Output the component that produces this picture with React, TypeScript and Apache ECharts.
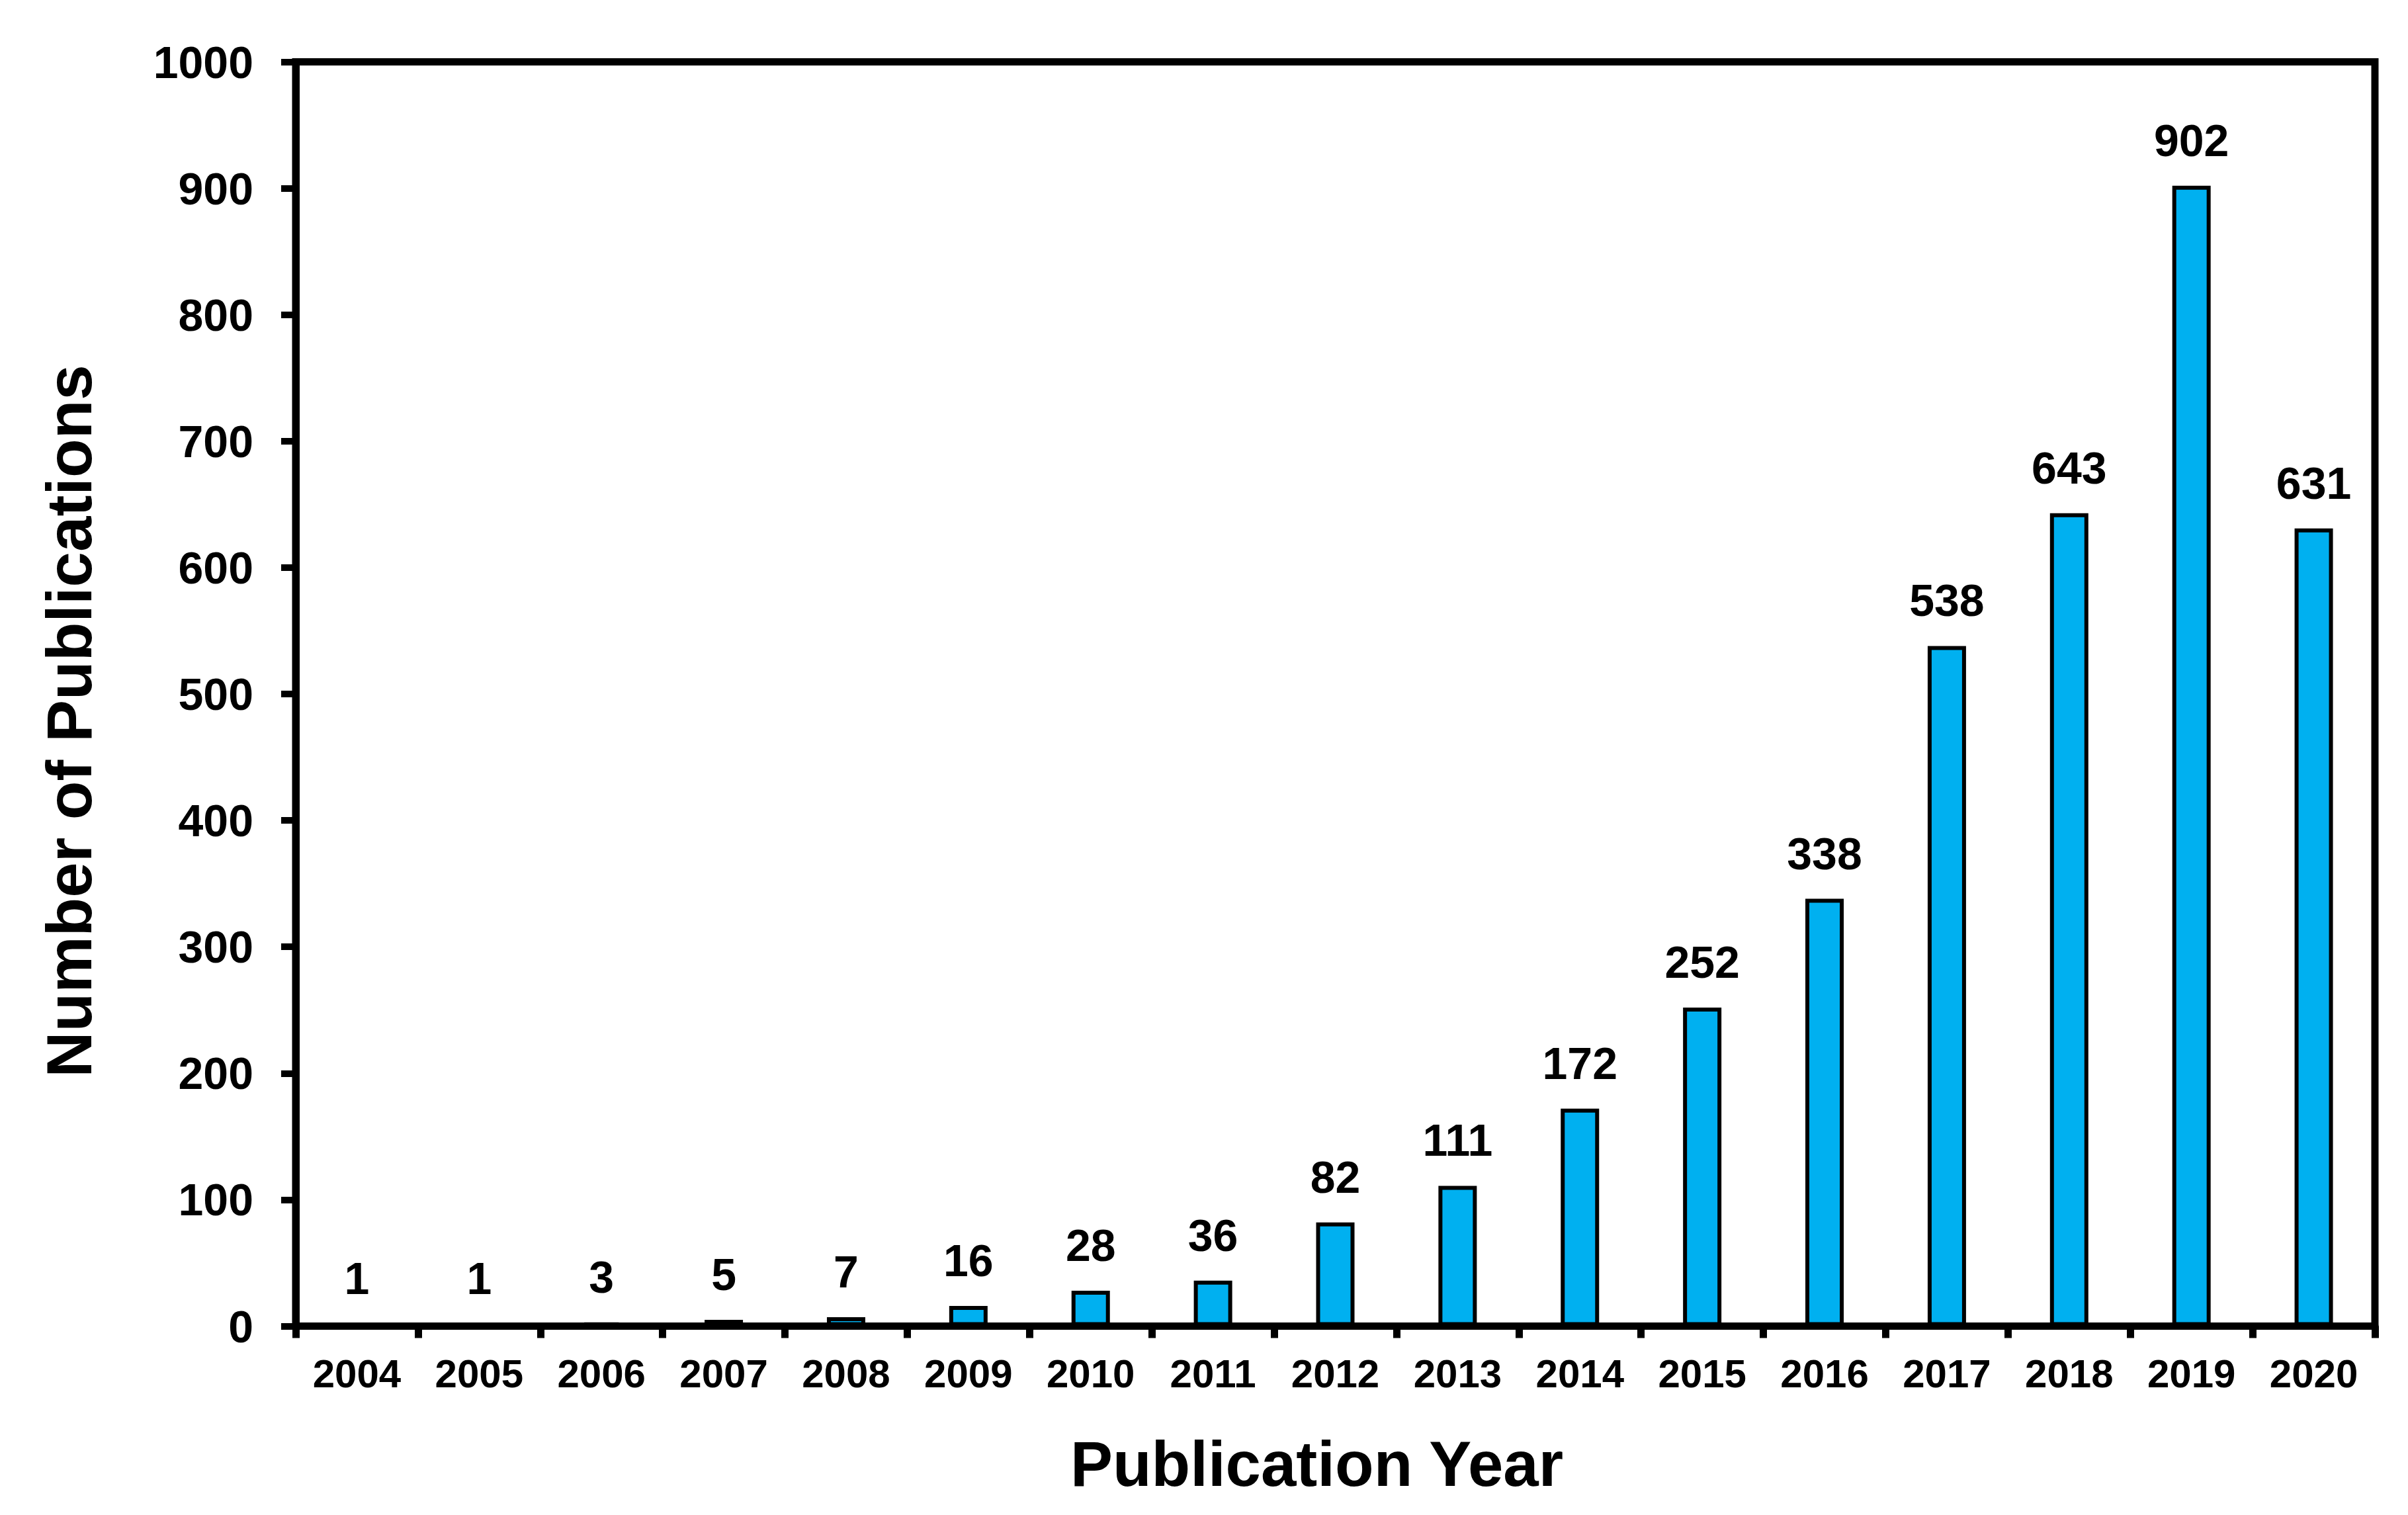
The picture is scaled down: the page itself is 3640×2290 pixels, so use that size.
import React, { useEffect, useRef } from "react";
import * as echarts from "echarts";

const years = ["2004","2005","2006","2007","2008","2009","2010","2011","2012","2013","2014","2015","2016","2017","2018","2019","2020"];
const publications = [1, 1, 3, 5, 7, 16, 28, 36, 82, 111, 172, 252, 338, 538, 643, 902, 631];

const FONT = "'Liberation Sans', Arial, sans-serif";

export default function App() {
  const ref = useRef<HTMLDivElement>(null);
  useEffect(() => {
    const chart = echarts.init(ref.current!, null, { renderer: "svg" });
    chart.setOption({
      animation: false,
      backgroundColor: "#ffffff",
      grid: {
        left: 447,
        right: 50,
        top: 93.5,
        bottom: 285.5,
        show: true,
        borderColor: "#000",
        borderWidth: 11,
        backgroundColor: "transparent",
      },
      xAxis: {
        type: "category",
        data: years,
        name: "Publication Year",
        nameLocation: "middle",
        nameGap: 160,
        nameTextStyle: { fontFamily: FONT, fontWeight: "bold", fontSize: 96, color: "#000", padding: [0, 56, 0, 0] },
        axisLine: { lineStyle: { color: "#000", width: 11 } },
        axisTick: { show: true, length: 18, lineStyle: { color: "#000", width: 11 } },
        axisLabel: { fontFamily: FONT, fontWeight: "bold", fontSize: 60, color: "#000", margin: 42, interval: 0 },
        splitLine: { show: false },
      },
      yAxis: {
        type: "value",
        min: 0,
        max: 1000,
        interval: 100,
        name: "Number of Publications",
        nameLocation: "middle",
        nameGap: 295,
        nameTextStyle: { fontFamily: FONT, fontWeight: "bold", fontSize: 96, color: "#000", padding: [0, 82, 0, 0] },
        axisLine: { show: true, lineStyle: { color: "#000", width: 11 } },
        axisTick: { show: true, length: 22, lineStyle: { color: "#000", width: 10 } },
        axisLabel: {
          fontFamily: FONT,
          fontWeight: "bold",
          fontSize: 68,
          color: "#000",
          margin: 64,
          formatter: (v: number) => String(v),
        },
        splitLine: { show: false },
      },
      series: [
        {
          type: "bar",
          data: publications,
          barWidth: 58,
          itemStyle: { color: "#00B0F0", borderColor: "#000", borderWidth: 6 },
          label: {
            show: true,
            position: "top",
            distance: 35,
            fontFamily: FONT,
            fontWeight: "bold",
            fontSize: 68,
            color: "#000",
          },
        },
      ],
    });
    return () => chart.dispose();
  }, []);
  return <div ref={ref} style={{ position: "absolute", left: 0, top: 0, width: 3640, height: 2290 }} />;
}
